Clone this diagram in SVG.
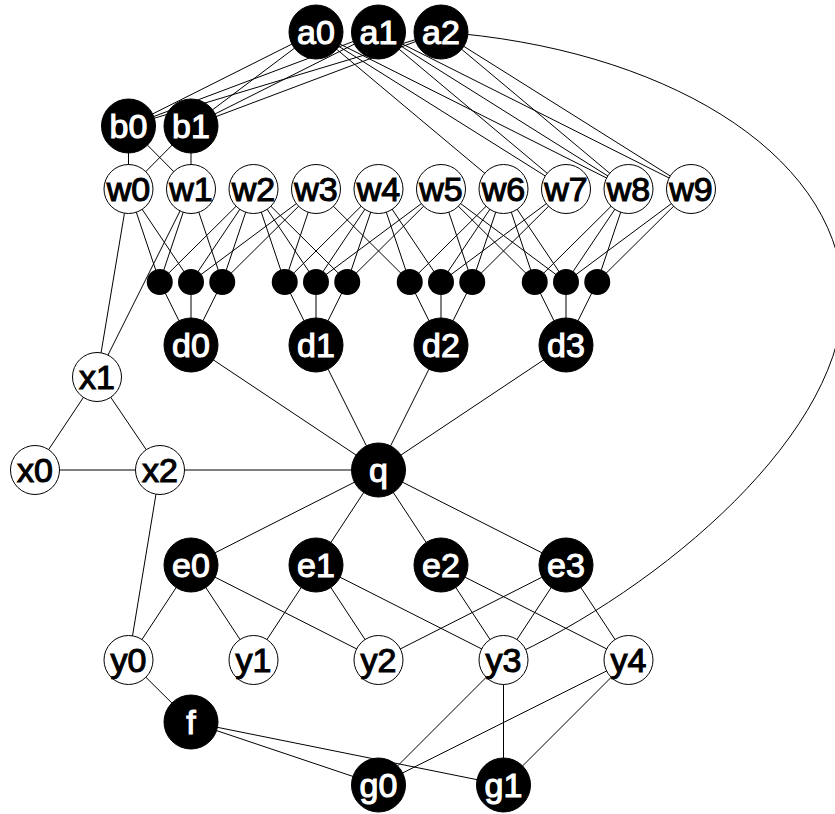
<svg xmlns="http://www.w3.org/2000/svg" width="835" height="814" viewBox="0 0 835 814">
<defs>
<style>
.e{stroke:#000;stroke-width:1;fill:none}
.wn{fill:#fff;stroke:#000;stroke-width:1}
.bn{fill:#000;stroke:#000;stroke-width:1}
.dot{fill:#000}
.tw{font-family:"Liberation Sans",Arial,sans-serif;font-size:34px;text-anchor:middle;fill:#fff;stroke:#fff;stroke-width:1.1}
.tb{font-family:"Liberation Sans",Arial,sans-serif;font-size:34px;text-anchor:middle;fill:#000;stroke:#000;stroke-width:1.1}
</style>
</defs>
<rect width="835" height="814" fill="#fff"/>
<g id="connectors">
<line class="e" x1="316" y1="32" x2="128.5" y2="126"/>
<line class="e" x1="316" y1="32" x2="191" y2="126"/>
<line class="e" x1="378.5" y1="32" x2="128.5" y2="126"/>
<line class="e" x1="378.5" y1="32" x2="191" y2="126"/>
<line class="e" x1="441" y1="32" x2="128.5" y2="126"/>
<line class="e" x1="441" y1="32" x2="191" y2="126"/>
<line class="e" x1="316" y1="32" x2="503.5" y2="189"/>
<line class="e" x1="316" y1="32" x2="566" y2="189"/>
<line class="e" x1="316" y1="32" x2="628.5" y2="189"/>
<line class="e" x1="378.5" y1="32" x2="566" y2="189"/>
<line class="e" x1="378.5" y1="32" x2="628.5" y2="189"/>
<line class="e" x1="378.5" y1="32" x2="691" y2="189"/>
<line class="e" x1="441" y1="32" x2="628.5" y2="189"/>
<line class="e" x1="441" y1="32" x2="691" y2="189"/>
<path class="e" d="M441,32 C660,48 835,150 843,290 C850,430 660,590 503.5,660"/>
<line class="e" x1="128.5" y1="126" x2="128.5" y2="189"/>
<line class="e" x1="128.5" y1="126" x2="191" y2="189"/>
<line class="e" x1="191" y1="126" x2="128.5" y2="189"/>
<line class="e" x1="191" y1="126" x2="191" y2="189"/>
<line class="e" x1="128.5" y1="189" x2="159.75" y2="282"/>
<line class="e" x1="191" y1="189" x2="159.75" y2="282"/>
<line class="e" x1="253.5" y1="189" x2="159.75" y2="282"/>
<line class="e" x1="128.5" y1="189" x2="191" y2="282"/>
<line class="e" x1="253.5" y1="189" x2="191" y2="282"/>
<line class="e" x1="316" y1="189" x2="191" y2="282"/>
<line class="e" x1="191" y1="189" x2="222.25" y2="282"/>
<line class="e" x1="253.5" y1="189" x2="222.25" y2="282"/>
<line class="e" x1="316" y1="189" x2="222.25" y2="282"/>
<line class="e" x1="253.5" y1="189" x2="284.75" y2="282"/>
<line class="e" x1="316" y1="189" x2="284.75" y2="282"/>
<line class="e" x1="378.5" y1="189" x2="284.75" y2="282"/>
<line class="e" x1="253.5" y1="189" x2="316" y2="282"/>
<line class="e" x1="378.5" y1="189" x2="316" y2="282"/>
<line class="e" x1="441" y1="189" x2="316" y2="282"/>
<line class="e" x1="253.5" y1="189" x2="347.25" y2="282"/>
<line class="e" x1="378.5" y1="189" x2="347.25" y2="282"/>
<line class="e" x1="441" y1="189" x2="347.25" y2="282"/>
<line class="e" x1="316" y1="189" x2="409.75" y2="282"/>
<line class="e" x1="378.5" y1="189" x2="409.75" y2="282"/>
<line class="e" x1="503.5" y1="189" x2="409.75" y2="282"/>
<line class="e" x1="378.5" y1="189" x2="441" y2="282"/>
<line class="e" x1="503.5" y1="189" x2="441" y2="282"/>
<line class="e" x1="566" y1="189" x2="441" y2="282"/>
<line class="e" x1="441" y1="189" x2="472.25" y2="282"/>
<line class="e" x1="503.5" y1="189" x2="472.25" y2="282"/>
<line class="e" x1="566" y1="189" x2="472.25" y2="282"/>
<line class="e" x1="441" y1="189" x2="534.75" y2="282"/>
<line class="e" x1="503.5" y1="189" x2="534.75" y2="282"/>
<line class="e" x1="628.5" y1="189" x2="534.75" y2="282"/>
<line class="e" x1="441" y1="189" x2="566" y2="282"/>
<line class="e" x1="503.5" y1="189" x2="566" y2="282"/>
<line class="e" x1="628.5" y1="189" x2="566" y2="282"/>
<line class="e" x1="691" y1="189" x2="566" y2="282"/>
<line class="e" x1="628.5" y1="189" x2="597.25" y2="282"/>
<line class="e" x1="691" y1="189" x2="597.25" y2="282"/>
<line class="e" x1="159.75" y1="282" x2="191" y2="345"/>
<line class="e" x1="191" y1="282" x2="191" y2="345"/>
<line class="e" x1="222.25" y1="282" x2="191" y2="345"/>
<line class="e" x1="284.75" y1="282" x2="316" y2="345"/>
<line class="e" x1="316" y1="282" x2="316" y2="345"/>
<line class="e" x1="347.25" y1="282" x2="316" y2="345"/>
<line class="e" x1="409.75" y1="282" x2="441" y2="345"/>
<line class="e" x1="441" y1="282" x2="441" y2="345"/>
<line class="e" x1="472.25" y1="282" x2="441" y2="345"/>
<line class="e" x1="534.75" y1="282" x2="566" y2="345"/>
<line class="e" x1="566" y1="282" x2="566" y2="345"/>
<line class="e" x1="597.25" y1="282" x2="566" y2="345"/>
<line class="e" x1="128.5" y1="189" x2="97" y2="377"/>
<line class="e" x1="191" y1="189" x2="97" y2="377"/>
<line class="e" x1="97" y1="377" x2="35" y2="470"/>
<line class="e" x1="97" y1="377" x2="160" y2="470"/>
<line class="e" x1="35" y1="470" x2="160" y2="470"/>
<line class="e" x1="160" y1="470" x2="378.5" y2="470"/>
<line class="e" x1="160" y1="470" x2="128.5" y2="660"/>
<line class="e" x1="191" y1="345" x2="378.5" y2="470"/>
<line class="e" x1="316" y1="345" x2="378.5" y2="470"/>
<line class="e" x1="441" y1="345" x2="378.5" y2="470"/>
<line class="e" x1="566" y1="345" x2="378.5" y2="470"/>
<line class="e" x1="378.5" y1="470" x2="191" y2="565"/>
<line class="e" x1="378.5" y1="470" x2="316" y2="565"/>
<line class="e" x1="378.5" y1="470" x2="441" y2="565"/>
<line class="e" x1="378.5" y1="470" x2="566" y2="565"/>
<line class="e" x1="191" y1="565" x2="128.5" y2="660"/>
<line class="e" x1="191" y1="565" x2="253.5" y2="660"/>
<line class="e" x1="191" y1="565" x2="378.5" y2="660"/>
<line class="e" x1="316" y1="565" x2="253.5" y2="660"/>
<line class="e" x1="316" y1="565" x2="378.5" y2="660"/>
<line class="e" x1="316" y1="565" x2="503.5" y2="660"/>
<line class="e" x1="441" y1="565" x2="503.5" y2="660"/>
<line class="e" x1="441" y1="565" x2="628.5" y2="660"/>
<line class="e" x1="566" y1="565" x2="378.5" y2="660"/>
<line class="e" x1="566" y1="565" x2="503.5" y2="660"/>
<line class="e" x1="566" y1="565" x2="628.5" y2="660"/>
<line class="e" x1="128.5" y1="660" x2="191" y2="722"/>
<line class="e" x1="191" y1="722" x2="378.5" y2="785"/>
<line class="e" x1="191" y1="722" x2="503.5" y2="785"/>
<line class="e" x1="503.5" y1="660" x2="378.5" y2="785"/>
<line class="e" x1="503.5" y1="660" x2="503.5" y2="785"/>
<line class="e" x1="628.5" y1="660" x2="378.5" y2="785"/>
<line class="e" x1="628.5" y1="660" x2="503.5" y2="785"/>
</g>
<g id="a0"><circle class="bn" cx="316" cy="32" r="27"/><text class="tw" x="316" y="44">a0</text></g>
<g id="a1"><circle class="bn" cx="378.5" cy="32" r="27"/><text class="tw" x="378.5" y="44">a1</text></g>
<g id="a2"><circle class="bn" cx="441" cy="32" r="27"/><text class="tw" x="441" y="44">a2</text></g>
<g id="b0"><circle class="bn" cx="128.5" cy="126" r="27"/><text class="tw" x="128.5" y="138">b0</text></g>
<g id="b1"><circle class="bn" cx="191" cy="126" r="27"/><text class="tw" x="191" y="138">b1</text></g>
<g id="w0"><circle class="wn" cx="128.5" cy="189" r="24.5"/><text class="tb" x="128.5" y="201">w0</text></g>
<g id="w1"><circle class="wn" cx="191" cy="189" r="24.5"/><text class="tb" x="191" y="201">w1</text></g>
<g id="w2"><circle class="wn" cx="253.5" cy="189" r="24.5"/><text class="tb" x="253.5" y="201">w2</text></g>
<g id="w3"><circle class="wn" cx="316" cy="189" r="24.5"/><text class="tb" x="316" y="201">w3</text></g>
<g id="w4"><circle class="wn" cx="378.5" cy="189" r="24.5"/><text class="tb" x="378.5" y="201">w4</text></g>
<g id="w5"><circle class="wn" cx="441" cy="189" r="24.5"/><text class="tb" x="441" y="201">w5</text></g>
<g id="w6"><circle class="wn" cx="503.5" cy="189" r="24.5"/><text class="tb" x="503.5" y="201">w6</text></g>
<g id="w7"><circle class="wn" cx="566" cy="189" r="24.5"/><text class="tb" x="566" y="201">w7</text></g>
<g id="w8"><circle class="wn" cx="628.5" cy="189" r="24.5"/><text class="tb" x="628.5" y="201">w8</text></g>
<g id="w9"><circle class="wn" cx="691" cy="189" r="24.5"/><text class="tb" x="691" y="201">w9</text></g>
<g id="dots">
<circle class="dot" cx="159.75" cy="282" r="13"/>
<circle class="dot" cx="191" cy="282" r="13"/>
<circle class="dot" cx="222.25" cy="282" r="13"/>
<circle class="dot" cx="284.75" cy="282" r="13"/>
<circle class="dot" cx="316" cy="282" r="13"/>
<circle class="dot" cx="347.25" cy="282" r="13"/>
<circle class="dot" cx="409.75" cy="282" r="13"/>
<circle class="dot" cx="441" cy="282" r="13"/>
<circle class="dot" cx="472.25" cy="282" r="13"/>
<circle class="dot" cx="534.75" cy="282" r="13"/>
<circle class="dot" cx="566" cy="282" r="13"/>
<circle class="dot" cx="597.25" cy="282" r="13"/>
</g>
<g id="d0"><circle class="bn" cx="191" cy="345" r="27"/><text class="tw" x="191" y="357">d0</text></g>
<g id="d1"><circle class="bn" cx="316" cy="345" r="27"/><text class="tw" x="316" y="357">d1</text></g>
<g id="d2"><circle class="bn" cx="441" cy="345" r="27"/><text class="tw" x="441" y="357">d2</text></g>
<g id="d3"><circle class="bn" cx="566" cy="345" r="27"/><text class="tw" x="566" y="357">d3</text></g>
<g id="x1"><circle class="wn" cx="97" cy="377" r="24.5"/><text class="tb" x="97" y="389">x1</text></g>
<g id="x0"><circle class="wn" cx="35" cy="470" r="24.5"/><text class="tb" x="35" y="482">x0</text></g>
<g id="x2"><circle class="wn" cx="160" cy="470" r="24.5"/><text class="tb" x="160" y="482">x2</text></g>
<g id="q"><circle class="bn" cx="378.5" cy="470" r="27"/><text class="tw" x="378.5" y="482">q</text></g>
<g id="e0"><circle class="bn" cx="191" cy="565" r="27"/><text class="tw" x="191" y="577">e0</text></g>
<g id="e1"><circle class="bn" cx="316" cy="565" r="27"/><text class="tw" x="316" y="577">e1</text></g>
<g id="e2"><circle class="bn" cx="441" cy="565" r="27"/><text class="tw" x="441" y="577">e2</text></g>
<g id="e3"><circle class="bn" cx="566" cy="565" r="27"/><text class="tw" x="566" y="577">e3</text></g>
<g id="y0"><circle class="wn" cx="128.5" cy="660" r="24.5"/><text class="tb" x="128.5" y="672">y0</text></g>
<g id="y1"><circle class="wn" cx="253.5" cy="660" r="24.5"/><text class="tb" x="253.5" y="672">y1</text></g>
<g id="y2"><circle class="wn" cx="378.5" cy="660" r="24.5"/><text class="tb" x="378.5" y="672">y2</text></g>
<g id="y3"><circle class="wn" cx="503.5" cy="660" r="24.5"/><text class="tb" x="503.5" y="672">y3</text></g>
<g id="y4"><circle class="wn" cx="628.5" cy="660" r="24.5"/><text class="tb" x="628.5" y="672">y4</text></g>
<g id="f"><circle class="bn" cx="191" cy="722" r="27"/><text class="tw" x="191" y="734">f</text></g>
<g id="g0"><circle class="bn" cx="378.5" cy="785" r="27"/><text class="tw" x="378.5" y="797">g0</text></g>
<g id="g1"><circle class="bn" cx="503.5" cy="785" r="27"/><text class="tw" x="503.5" y="797">g1</text></g>
</svg>
